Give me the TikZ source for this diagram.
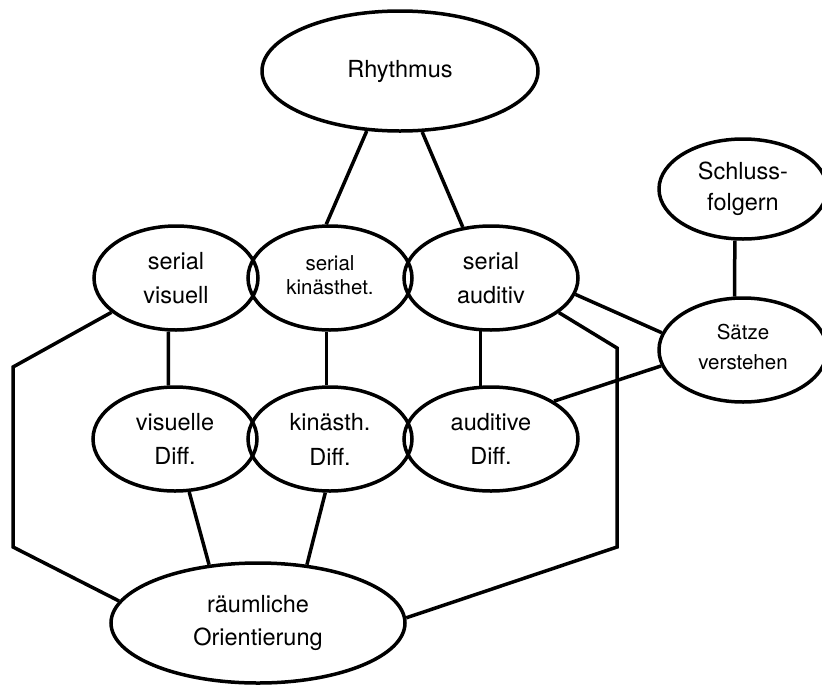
\documentclass[tikz,border=0pt]{standalone}
\usepackage{fontspec}
\setmainfont{TeX Gyre Heros}
\usetikzlibrary{shapes.geometric}
\begin{document}
\begin{tikzpicture}[x=1pt,y=-1pt,line width=3.5pt,
  ell/.style={draw, ellipse, inner sep=0pt, align=center, font=\fontsize{23.5}{33.5}\selectfont},
  small/.style={font=\fontsize{20.5}{24.3}\selectfont}]
\useasboundingbox (0,0) rectangle (822,686);
% nodes
\node[ell, minimum width=276pt, minimum height=120pt] (rhy) at (400,71) {Rhythmus};
\node[ell, font=\fontsize{23.5}{31}\selectfont, minimum width=168pt, minimum height=100pt] (sch) at (743,189) {Schluss-\\folgern};
\node[ell, minimum width=164pt, minimum height=104pt] (sv) at (176,278) {serial\\visuell};
\node[ell, small, minimum width=164pt, minimum height=104pt] (sk) at (330,278) {serial\\kinästhet.\rule[-6pt]{0pt}{0pt}};
\node[ell, minimum width=174pt, minimum height=104pt] (sa) at (491,278) {serial\\auditiv};
\node[ell, minimum width=164pt, minimum height=104pt] (vd) at (175,439) {visuelle\\Diff.};
\node[ell, font=\fontsize{23.5}{35}\selectfont, minimum width=164pt, minimum height=104pt] (kd) at (330,439) {kinästh.\\Diff.};
\node[ell, minimum width=174pt, minimum height=104pt] (ad) at (491,439) {auditive\\Diff.};
\node[ell, font=\fontsize{20.5}{30}\selectfont, minimum width=168pt, minimum height=104pt] (sat) at (743,350) {Sätze\\verstehen\rule[-6pt]{0pt}{0pt}};
\node[ell, minimum width=294pt, minimum height=120pt] (ro) at (258,623) {räumliche\\Orientierung};
% bend points
\coordinate (r1) at (617,348);
\coordinate (r2) at (617,547);
\coordinate (l1) at (13,367);
\coordinate (l2) at (13,547);
% connectors
\draw (rhy.241) -- (sk.94);
\draw (rhy.290) -- (sa.119);
\draw (sch.261) -- (sat.99);
\draw (sa.349) -- (sat.168);
\draw (sa.333) -- (r1) -- (r2) -- (ro.2);
\draw (sat.191) -- (ad.31);
\draw (sv.208) -- (l1) -- (l2) -- (ro.171);
\draw (sv.262) -- (vd.97);
\draw (sk.266) -- (kd.94);
\draw (sa.259) -- (ad.101);
\draw (vd.285) -- (ro.130);
\draw (kd.265) -- (ro.50);
\end{tikzpicture}
\end{document}
